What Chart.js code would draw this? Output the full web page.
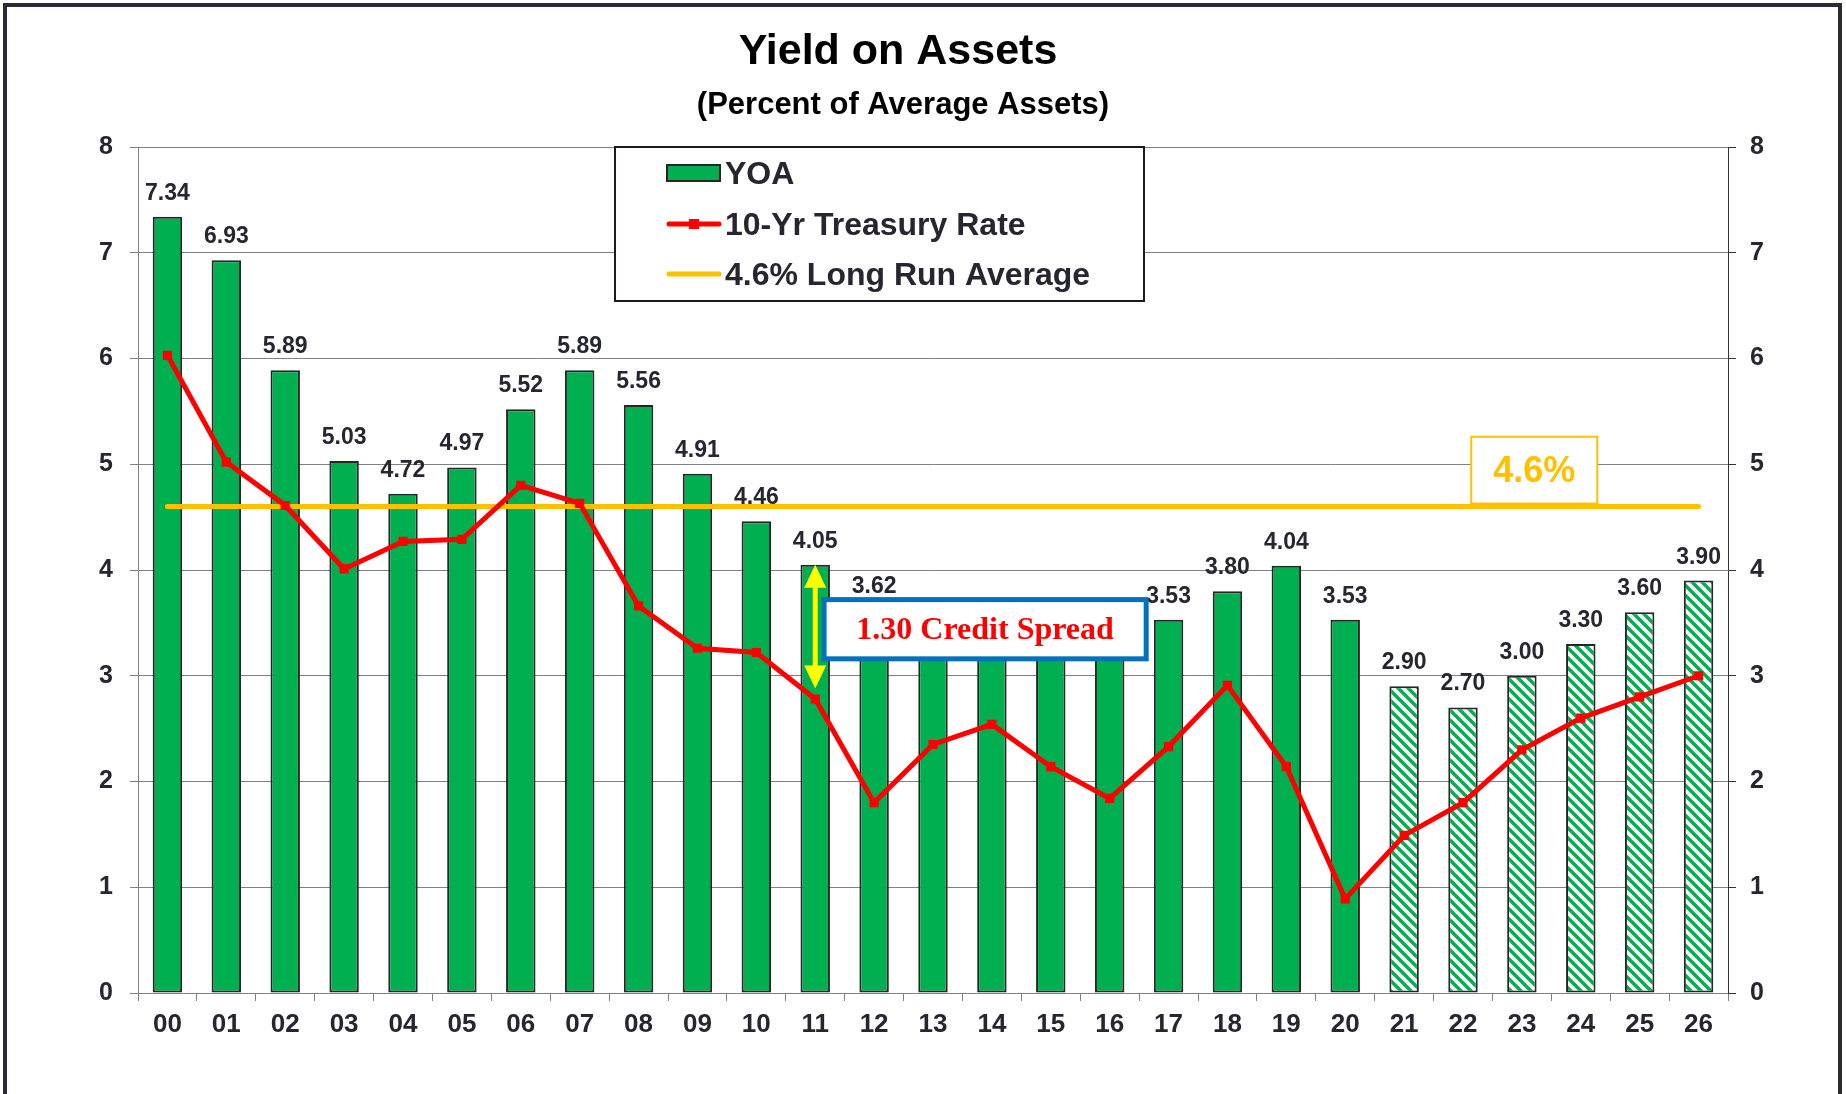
<!DOCTYPE html>
<html>
<head>
<meta charset="utf-8">
<title>Yield on Assets</title>
<script src="https://cdn.jsdelivr.net/npm/chart.js@4.4.1/dist/chart.umd.min.js"></script>
<style>
  html, body { margin: 0; padding: 0; background: #fff; overflow: hidden; }
  #frame { position: absolute; left: 3px; top: 3px; width: 1831px; height: 1200px; border: 4px solid #2b2b36; }
  #chart { position: absolute; left: 0; top: 0; }
</style>
</head>
<body>
<div id="frame"></div>
<canvas id="chart" width="1846" height="1094"></canvas>
<script>
// dados
const years = ['00', '01', '02', '03', '04', '05', '06', '07', '08', '09', '10', '11', '12', '13',
               '14', '15', '16', '17', '18', '19', '20', '21', '22', '23', '24', '25', '26'];
const yoa = [7.34, 6.93, 5.89, 5.03, 4.72, 4.97, 5.52, 5.89, 5.56, 4.91, 4.46, 4.05, 3.62, 3.36,
             3.34, 3.30, 3.32, 3.53, 3.80, 4.04, 3.53, 2.90, 2.70, 3.00, 3.30, 3.60, 3.90];
const treasury = [6.03, 5.02, 4.61, 4.01, 4.27, 4.29, 4.80, 4.63, 3.66, 3.26, 3.22, 2.78, 1.80, 2.35,
                  2.54, 2.14, 1.84, 2.33, 2.91, 2.14, 0.89, 1.49, 1.80, 2.30, 2.60, 2.80, 3.00];
const longRunAvg = 4.6;
const firstForecast = 21; // barras hachuradas (projecao)
const spreadYear = 11;
const spreadLow = 2.88;
const spreadText = '1.30 Credit Spread';
const avgText = '4.6%';

const GREEN = '#00B050';
const RED = '#FF0000';
const GOLD = '#FFC000';
const INK = '#262630';
const SANS = '"Liberation Sans", Arial, sans-serif';

function makeHatch() {
    const c = document.createElement('canvas');
    c.width = 10; c.height = 10;
    const g = c.getContext('2d');
    g.fillStyle = '#fff';
    g.fillRect(0, 0, 10, 10);
    g.strokeStyle = GREEN;
    g.lineWidth = 3.5;
    g.beginPath();
    g.moveTo(-5, -5); g.lineTo(15, 15);
    g.moveTo(-5, 5); g.lineTo(5, 15);
    g.moveTo(5, -5); g.lineTo(15, 5);
    g.stroke();
    return g.createPattern(c, 'repeat');
}
const hatch = makeHatch();
const barColors = yoa.map((v, i) => i >= firstForecast ? hatch : GREEN);

// titulos, rotulos, legenda e anotacoes
const extras = {
    id: 'extras',
    afterDatasetsDraw(chart) {
        const ctx = chart.ctx;
        const xs = chart.scales.x, ys = chart.scales.y;
        const step = xs.getPixelForValue(1) - xs.getPixelForValue(0);
        const xAt = v => xs.getPixelForValue(0) + v * step;

        ctx.save();
        // rotulos das barras
        ctx.fillStyle = INK;
        ctx.font = 'bold 23px ' + SANS;
        ctx.textAlign = 'center';
        ctx.textBaseline = 'alphabetic';
        chart.getDatasetMeta(0).data.forEach((bar, i) => {
            ctx.fillText(yoa[i].toFixed(2), bar.x, bar.y - 17);
        });

        // seta amarela do spread
        const ax = xs.getPixelForValue(spreadYear);
        const aTop = ys.getPixelForValue(yoa[spreadYear]);
        const aBot = ys.getPixelForValue(spreadLow);
        ctx.strokeStyle = '#FFFF00';
        ctx.fillStyle = '#FFFF00';
        ctx.lineWidth = 5;
        ctx.beginPath();
        ctx.moveTo(ax, aTop + 18); ctx.lineTo(ax, aBot - 18);
        ctx.stroke();
        ctx.beginPath();
        ctx.moveTo(ax, aTop); ctx.lineTo(ax - 11, aTop + 23); ctx.lineTo(ax + 11, aTop + 23); ctx.closePath();
        ctx.moveTo(ax, aBot); ctx.lineTo(ax - 11, aBot - 23); ctx.lineTo(ax + 11, aBot - 23); ctx.closePath();
        ctx.fill();

        // caixa do credit spread
        const bl = xAt(spreadYear + 0.15), br = xAt(16.62);
        const bt = ys.getPixelForValue(3.72), bb = ys.getPixelForValue(3.16);
        ctx.fillStyle = '#fff';
        ctx.fillRect(bl, bt, br - bl, bb - bt);
        ctx.strokeStyle = '#0070C0';
        ctx.lineWidth = 5;
        ctx.strokeRect(bl, bt, br - bl, bb - bt);
        ctx.fillStyle = RED;
        ctx.font = 'bold 32px "Liberation Serif", "Times New Roman", serif';
        ctx.textBaseline = 'middle';
        ctx.fillText(spreadText, (bl + br) / 2, (bt + bb) / 2 + 2);

        // caixa 4.6%
        const gl = xAt(22.14), gr = xAt(24.28);
        const gt = ys.getPixelForValue(5.26), gb = ys.getPixelForValue(longRunAvg) - 3;
        ctx.fillStyle = '#fff';
        ctx.fillRect(gl, gt, gr - gl, gb - gt);
        ctx.strokeStyle = GOLD;
        ctx.lineWidth = 2;
        ctx.strokeRect(gl, gt, gr - gl, gb - gt);
        ctx.fillStyle = GOLD;
        ctx.font = 'bold 36px ' + SANS;
        ctx.fillText(avgText, (gl + gr) / 2, (gt + gb) / 2 + 2);

        // legenda
        const lx = 615, ly = 147, lw = 529, lh = 154;
        ctx.fillStyle = '#fff';
        ctx.fillRect(lx, ly, lw, lh);
        ctx.strokeStyle = '#1a1a22';
        ctx.lineWidth = 2;
        ctx.strokeRect(lx, ly, lw, lh);
        const ds = chart.data.datasets;
        const rows = [173, 224, 274];
        ctx.font = 'bold 32px ' + SANS;
        ctx.textAlign = 'left';
        ctx.textBaseline = 'middle';
        // YOA
        ctx.fillStyle = GREEN;
        ctx.fillRect(667, rows[0] - 8, 53, 16);
        ctx.strokeStyle = '#262626';
        ctx.lineWidth = 2;
        ctx.strokeRect(667, rows[0] - 8, 53, 16);
        // treasury
        ctx.strokeStyle = RED;
        ctx.lineWidth = 5;
        ctx.lineCap = 'round';
        ctx.beginPath(); ctx.moveTo(669, rows[1]); ctx.lineTo(719, rows[1]); ctx.stroke();
        ctx.fillStyle = RED;
        ctx.fillRect(689, rows[1] - 5, 10, 10);
        // media
        ctx.strokeStyle = GOLD;
        ctx.beginPath(); ctx.moveTo(669, rows[2]); ctx.lineTo(719, rows[2]); ctx.stroke();
        ctx.fillStyle = INK;
        ctx.fillText(ds[0].label, 725, rows[0] + 2);
        ctx.fillText(ds[2].label, 725, rows[1] + 2);
        ctx.fillText(ds[1].label, 725, rows[2] + 2);

        // titulo
        ctx.fillStyle = '#000';
        ctx.textAlign = 'center';
        ctx.font = 'bold 43px ' + SANS;
        ctx.fillText('Yield on Assets', 898, 52);
        ctx.font = 'bold 31px ' + SANS;
        ctx.fillText('(Percent of Average Assets)', 903, 105);
        ctx.restore();
    }
};

const tickFont = { family: SANS, size: 25, weight: 'bold' };

new Chart(document.getElementById('chart').getContext('2d'), {
    type: 'bar',
    data: {
        labels: years,
        datasets: [{
            type: 'bar',
            label: 'YOA',
            data: yoa,
            backgroundColor: barColors,
            borderColor: '#262626',
            borderWidth: 2,
            borderSkipped: false,
            categoryPercentage: 1,
            barPercentage: 0.5,
            order: 3
        }, {
            type: 'line',
            label: '4.6% Long Run Average',
            data: years.map(() => longRunAvg),
            borderColor: GOLD,
            borderWidth: 5,
            borderCapStyle: 'round',
            pointRadius: 0,
            order: 2
        }, {
            type: 'line',
            label: '10-Yr Treasury Rate',
            data: treasury,
            borderColor: RED,
            borderWidth: 5,
            pointStyle: 'rect',
            pointRadius: 6.5,
            pointBackgroundColor: RED,
            pointBorderColor: RED,
            pointBorderWidth: 0,
            tension: 0,
            order: 1
        }]
    },
    options: {
        responsive: false,
        animation: false,
        devicePixelRatio: 1,
        layout: { padding: { top: 147, left: 0, right: 0, bottom: 0 } },
        plugins: {
            legend: { display: false },
            tooltip: { enabled: false }
        },
        scales: {
            x: {
                grid: { offset: true, drawOnChartArea: false, tickLength: 8, color: '#808080' },
                border: { color: '#808080', width: 1 },
                ticks: { font: { family: SANS, size: 26, weight: 'bold' }, color: INK, padding: 8 },
                afterFit(s) { s.height = 101; }
            },
            y: {
                position: 'left',
                min: 0, max: 8,
                ticks: { stepSize: 1, font: tickFont, color: INK, padding: 17 },
                grid: { color: '#808080', tickLength: 8 },
                border: { color: '#808080' },
                afterFit(s) { s.width = 138; }
            },
            y1: {
                position: 'right',
                min: 0, max: 8,
                ticks: { stepSize: 1, font: tickFont, color: INK, padding: 14 },
                grid: { drawOnChartArea: false, tickLength: 8, color: '#333' },
                border: { color: '#333' },
                afterFit(s) { s.width = 118; }
            }
        }
    },
    plugins: [extras]
});
</script>
</body>
</html>
